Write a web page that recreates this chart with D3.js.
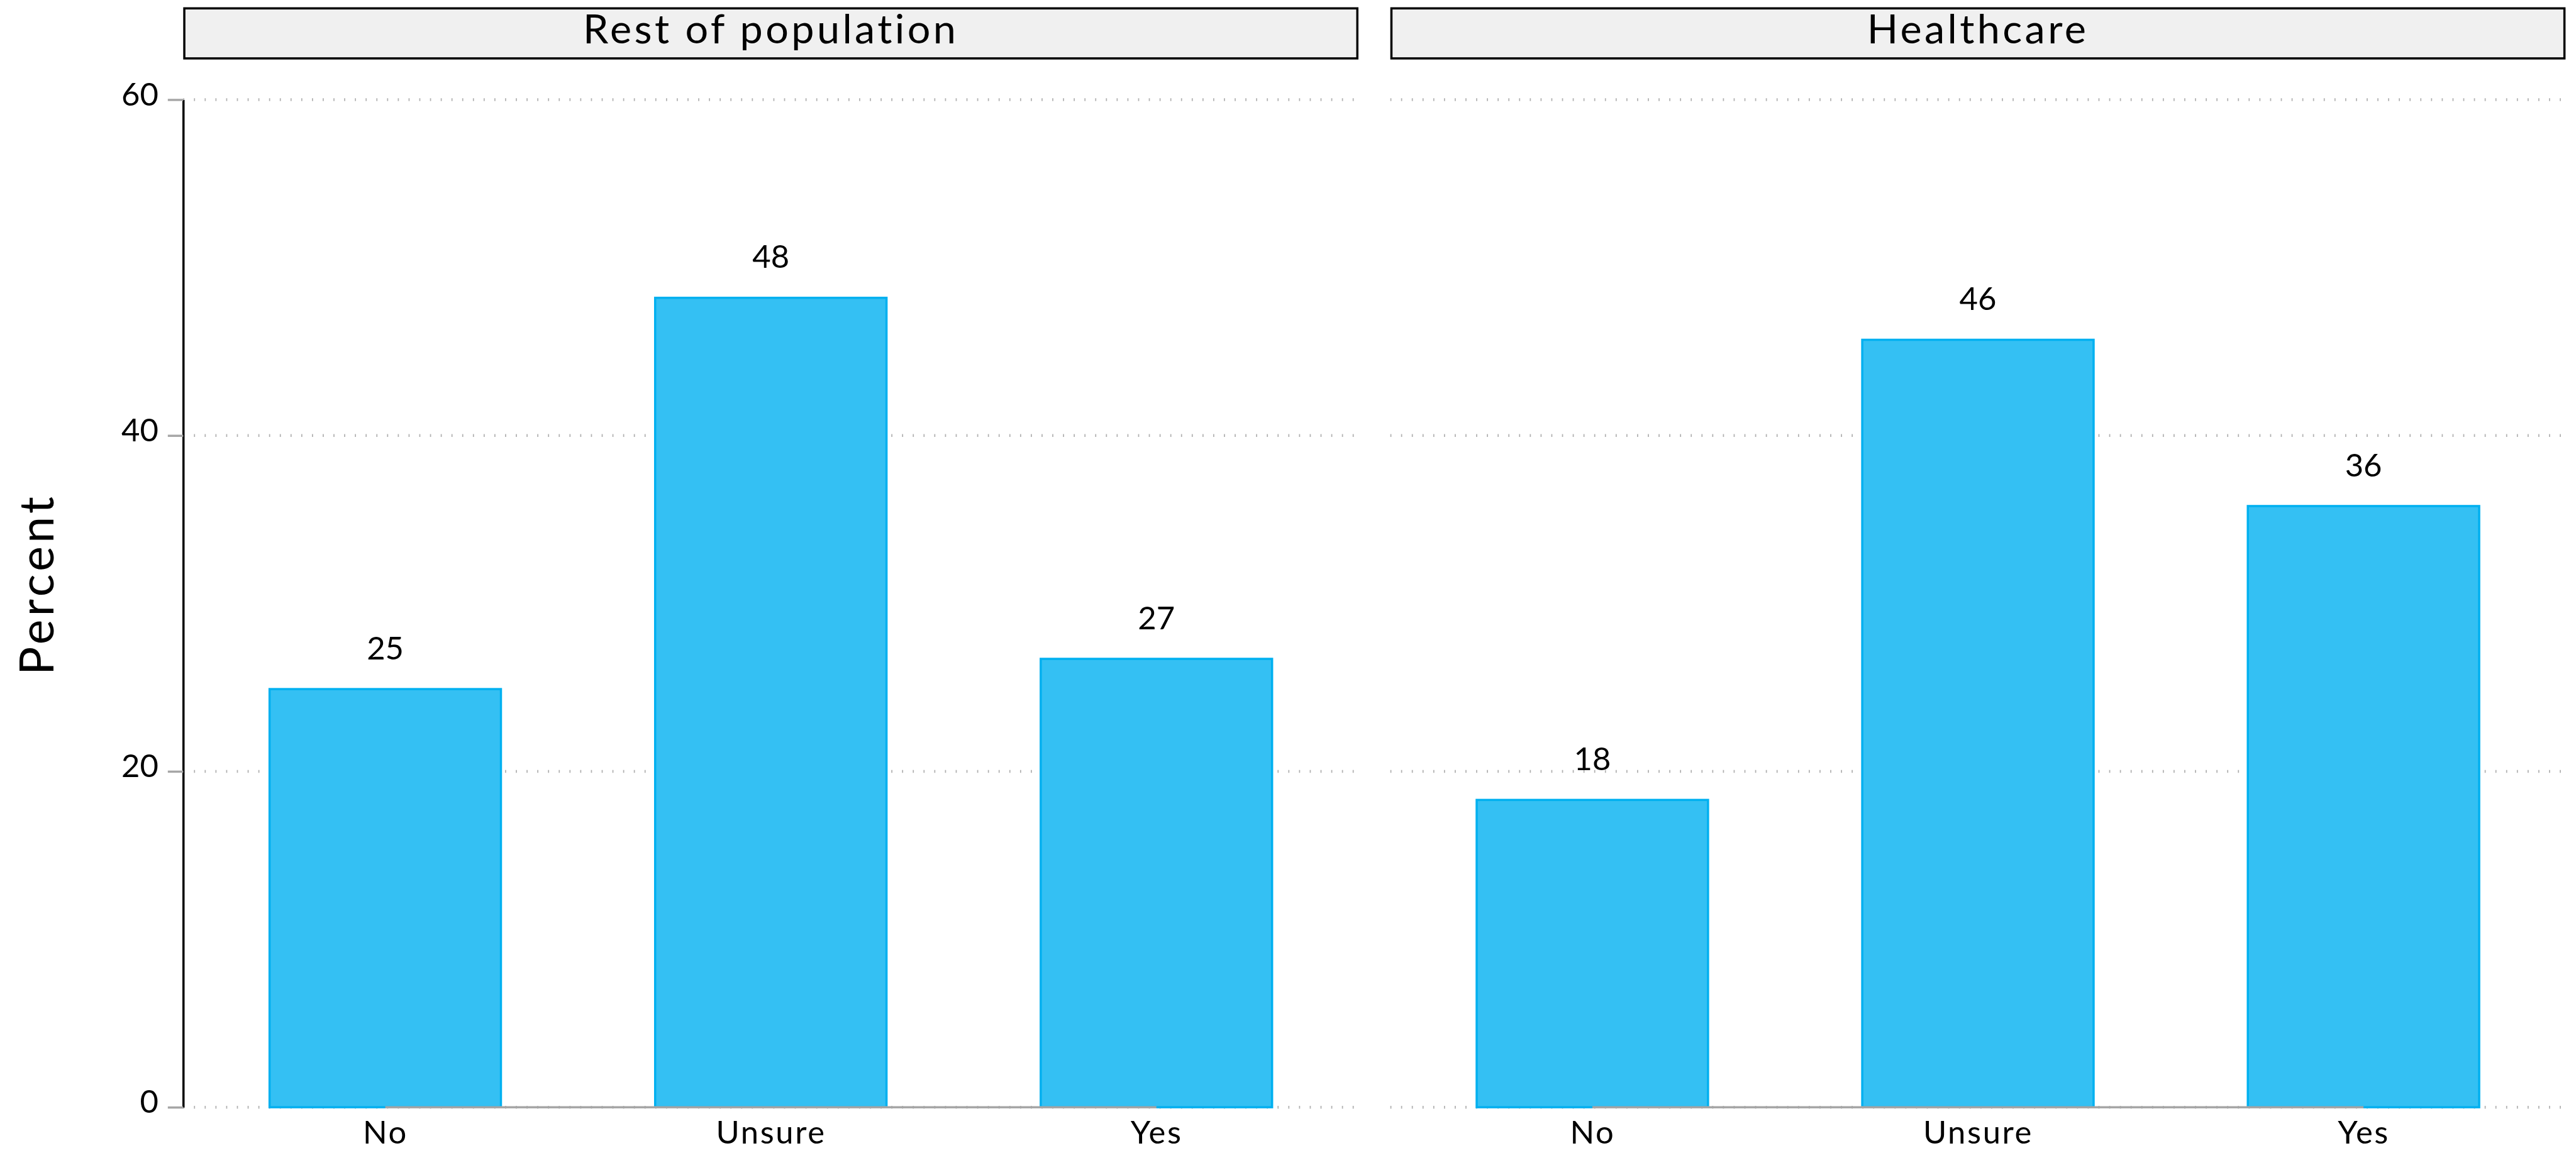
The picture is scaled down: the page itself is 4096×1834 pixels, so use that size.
<!DOCTYPE html>
<html>
<head>
<meta charset="utf-8">
<script src="https://cdn.jsdelivr.net/npm/d3@7"></script>
<style>
  html, body { margin: 0; padding: 0; background: #fff; }
  text { font-family: Lato, 'Open Sans', sans-serif; fill: #000; }
</style>
</head>
<body>
<div id="container"></div>
<script>
// data
let panels = ['Rest of population', 'Healthcare'];
let categories = ['No', 'Unsure', 'Yes'];
let restValues = [24.9, 48.2, 26.7];
let healthValues = [18.3, 45.7, 35.8];
let yTicks = [0, 20, 40, 60];

// drawn in reference pixels, the viewBox shrinks it to the window
let width = 4682;
let height = 2096;
let margin = { top: 181, right: 19, bottom: 83, left: 333 };

let svg = d3.create('svg')
  .attr('width', 4096)
  .attr('height', 1834)
  .attr('viewBox', `0 0 ${width} ${height}`);

let rows = panels.map((p, i) => ({
  panel: p,
  values: i === 0 ? restValues : healthValues
}));

let panelX = d3.scaleBand()
  .domain(panels)
  .range([margin.left, width - margin.right])
  .paddingInner(0.0264)
  .paddingOuter(0);

let bw = panelX.bandwidth();

let x = d3.scalePoint()
  .domain(categories)
  .range([0, bw])
  .padding(0.524);

let barWidth = x.step() * 0.6;

let y = d3.scaleLinear()
  .domain([0, 60])
  .range([height - margin.bottom, margin.top]);

let g = svg.selectAll('.panel')
  .data(rows)
  .enter()
  .append('g')
  .attr('class', 'panel')
  .attr('transform', d => `translate(${panelX(d.panel)},0)`);

// strip on top of each panel
g.append('rect')
  .attr('x', 2)
  .attr('y', 15)
  .attr('width', bw - 4)
  .attr('height', 91)
  .attr('fill', '#f0f0f0')
  .attr('stroke', '#000')
  .attr('stroke-width', 4);

g.append('text')
  .attr('x', bw / 2)
  .attr('y', 79)
  .attr('text-anchor', 'middle')
  .attr('font-size', 74)
  .attr('letter-spacing', 5)
  .text(d => d.panel);

// dotted grid
g.selectAll('.grid')
  .data(yTicks)
  .enter()
  .append('line')
  .attr('class', 'grid')
  .attr('x1', 0)
  .attr('x2', bw)
  .attr('y1', d => y(d))
  .attr('y2', d => y(d))
  .attr('stroke', '#b0b0b0')
  .attr('stroke-width', 5)
  .attr('stroke-dasharray', '2,17.5');

// bars
g.selectAll('.bar')
  .data(d => d.values.map((v, i) => ({ cat: categories[i], value: v })))
  .enter()
  .append('rect')
  .attr('class', 'bar')
  .attr('x', d => x(d.cat) - barWidth / 2)
  .attr('y', d => y(d.value))
  .attr('width', barWidth)
  .attr('height', d => y(0) - y(d.value))
  .attr('fill', '#34c0f3')
  .attr('stroke', '#00b0f0')
  .attr('stroke-width', 4);

g.selectAll('.bar-label')
  .data(d => d.values.map((v, i) => ({ cat: categories[i], value: v })))
  .enter()
  .append('text')
  .attr('class', 'bar-label')
  .attr('x', d => x(d.cat))
  .attr('y', d => y(d.value) - 54)
  .attr('text-anchor', 'middle')
  .attr('font-size', 58)
  .text(d => Math.round(d.value));

// grey range line at the bottom, first to last category
g.append('line')
  .attr('x1', x(categories[0]))
  .attr('x2', x(categories[categories.length - 1]))
  .attr('y1', y(0))
  .attr('y2', y(0))
  .attr('stroke', '#a6a6a6')
  .attr('stroke-width', 4);

// x axis labels
g.append('g')
  .attr('transform', `translate(0,${y(0)})`)
  .call(d3.axisBottom(x).tickSize(0))
  .call(a => a.select('.domain').remove())
  .call(a => a.selectAll('text')
    .attr('y', 66)
    .attr('dy', 0)
    .attr('font-size', 58)
    .attr('letter-spacing', 3)
    .attr('font-family', null)
    .attr('fill', '#000'));

// y axis, only on the left panel
let yAxis = svg.append('g')
  .attr('transform', `translate(${margin.left},0)`)
  .call(d3.axisLeft(y).tickValues(yTicks).tickSize(28).tickSizeOuter(0).tickPadding(17));

yAxis.select('.domain')
  .attr('stroke', '#000')
  .attr('stroke-width', 4);

yAxis.selectAll('.tick line')
  .attr('stroke', '#a6a6a6')
  .attr('stroke-width', 4);

yAxis.selectAll('.tick text')
  .attr('dy', '0.17em')
  .attr('font-size', 58)
  .attr('fill', '#000');

yAxis.attr('font-family', null).attr('font-size', null);

svg.append('text')
  .attr('transform', 'translate(97,1062) rotate(-90)')
  .attr('text-anchor', 'middle')
  .attr('font-size', 86)
  .attr('letter-spacing', 6)
  .text('Percent');

d3.select('#container').append(() => svg.node());
</script>
</body>
</html>
